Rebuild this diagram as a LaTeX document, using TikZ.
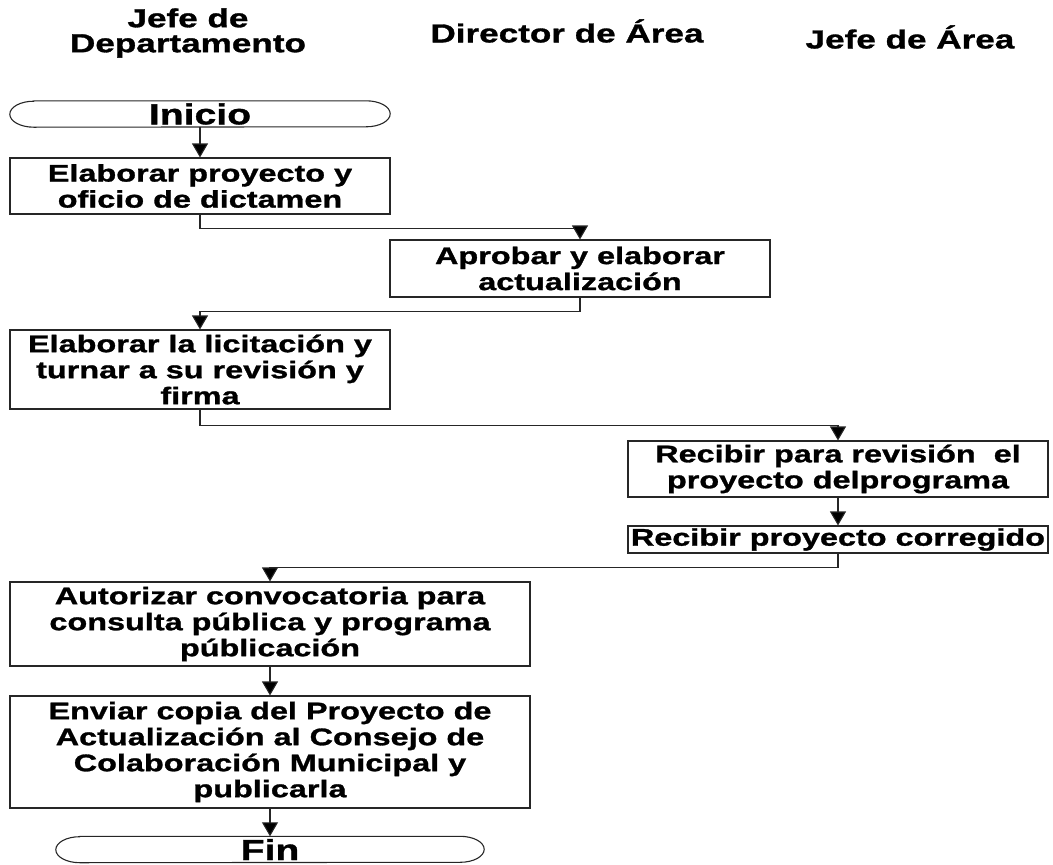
\documentclass[tikz,border=0pt]{standalone}
\usepackage{fontspec}
\newfontfamily\fcfont{Liberation Sans}[FakeStretch=1.35,FakeBold=1.2]
\usetikzlibrary{arrows.meta}
\begin{document}
\begin{tikzpicture}[x=1pt,y=1pt,
  line/.style={draw=black!85, line width=1.1pt},
  arr/.style={line, -{Triangle[width=16pt,length=14pt,fill=black]}},
  proc/.style={line, fill=white, inner sep=0pt, align=center,
    font=\fcfont\bfseries\fontsize{24}{26}\selectfont},
  term/.style={inner sep=0pt, minimum height=26pt,
    font=\fcfont\bfseries\fontsize{29}{30}\selectfont},
  head/.style={inner sep=0pt, align=center,
    font=\fcfont\bfseries\fontsize{26}{25}\selectfont}]
\useasboundingbox (0,0) rectangle (1053,-865);

% headers
\node[head] (h1) at (188,-33) {Jefe de\\Departamento};
\node[head] (h2) at (567,-31) {Director de Área};
\node[head] (h3) at (910,-37) {Jefe de Área};

% terminals
\node[term, minimum width=380pt] (inicio) at (200,-114) {Inicio};
\draw[line] ([xshift=24pt]inicio.north west) -- ([xshift=-24pt]inicio.north east)
  arc[start angle=90,end angle=-90,x radius=24pt,y radius=13pt]
  -- ([xshift=24pt]inicio.south west)
  arc[start angle=270,end angle=90,x radius=24pt,y radius=13pt] -- cycle;

\node[term, minimum width=428pt] (fin) at (270,-849.5) {Fin};
\draw[line] ([xshift=24pt]fin.north west) -- ([xshift=-24pt]fin.north east)
  arc[start angle=90,end angle=-90,x radius=24pt,y radius=13pt]
  -- ([xshift=24pt]fin.south west)
  arc[start angle=270,end angle=90,x radius=24pt,y radius=13pt] -- cycle;

% process boxes
\node[proc, minimum width=380pt, minimum height=56pt] (b1) at (200,-186)
  {Elaborar proyecto y\\oficio de dictamen};
\node[proc, minimum width=380pt, minimum height=57pt] (b2) at (580,-268.5)
  {Aprobar y elaborar\\actualización};
\node[proc, minimum width=380pt, minimum height=79pt] (b3) at (200,-369.5)
  {Elaborar la licitación y\\turnar a su revisión y\\firma};
\node[proc, minimum width=420pt, minimum height=56pt] (b4) at (838,-469)
  {Recibir para revisión\ \ el\\proyecto delprograma};
\node[proc, minimum width=420pt, minimum height=27pt] (b5) at (838,-539.5)
  {Recibir proyecto corregido};
\node[proc, minimum width=520pt, minimum height=84pt] (b6) at (270,-624)
  {Autorizar convocatoria para\\consulta pública y programa\\públicación};
\node[proc, minimum width=520pt, minimum height=112pt] (b7) at (270,-752)
  {Enviar copia del Proyecto de\\Actualización al Consejo de\\Colaboración Municipal y\\publicarla};

% connectors
\draw[arr] (inicio.south) -- (b1.north);
\draw[arr] (b1.south) -- ++(0,-14) -| (b2.north);
\draw[arr] (b2.south) -- ++(0,-14) -| (b3.north);
\draw[arr] (b3.south) -- ++(0,-16) -| (b4.north);
\draw[arr] (b4.south) -- (b5.north);
\draw[arr] (b5.south) -- ++(0,-14) -| (b6.north);
\draw[arr] (b6.south) -- (b7.north);
\draw[arr] (b7.south) -- (fin.north);
\end{tikzpicture}
\end{document}
